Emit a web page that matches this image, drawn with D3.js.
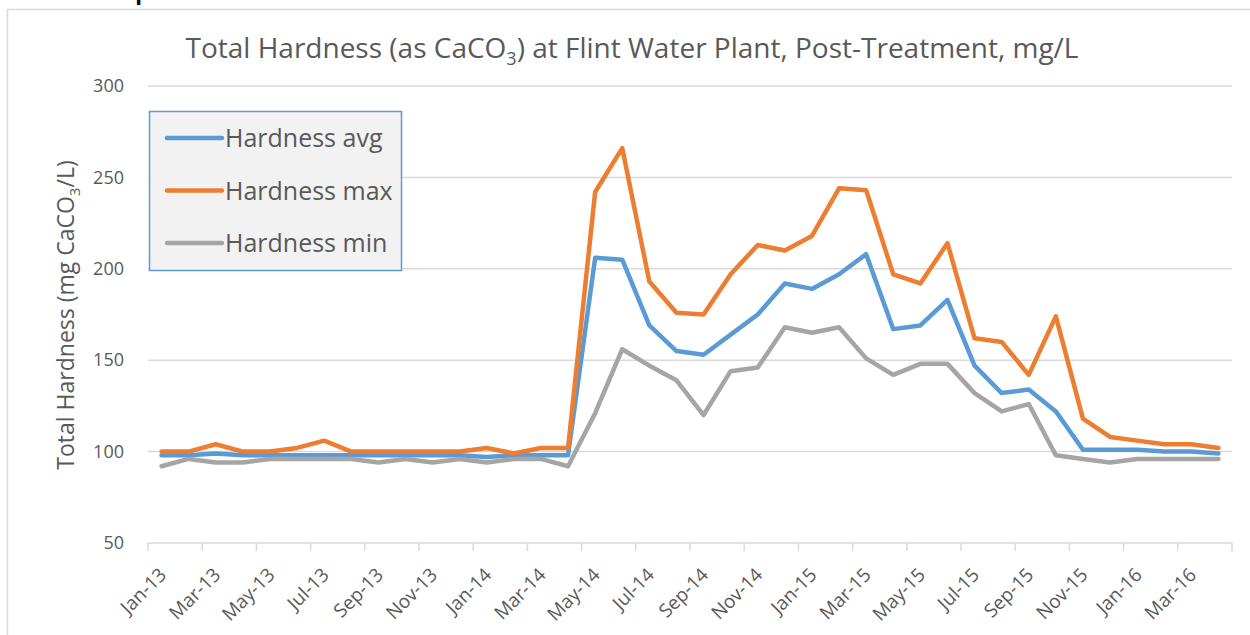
<!DOCTYPE html>
<html>
<head>
<meta charset="utf-8">
<script src="https://cdn.jsdelivr.net/npm/d3@7"></script>
<style>
  html, body { margin: 0; padding: 0; background: #fff; }
  svg { display: block; font-family: "Open Sans", sans-serif; }
</style>
</head>
<body>
<svg id="chart" width="1250" height="635"></svg>
<script>
// ---- data ----
const months = [
  'Jan-13', 'Feb-13', 'Mar-13', 'Apr-13', 'May-13', 'Jun-13', 'Jul-13', 'Aug-13', 'Sep-13', 'Oct-13', 'Nov-13', 'Dec-13',
  'Jan-14', 'Feb-14', 'Mar-14', 'Apr-14', 'May-14', 'Jun-14', 'Jul-14', 'Aug-14', 'Sep-14', 'Oct-14', 'Nov-14', 'Dec-14',
  'Jan-15', 'Feb-15', 'Mar-15', 'Apr-15', 'May-15', 'Jun-15', 'Jul-15', 'Aug-15', 'Sep-15', 'Oct-15', 'Nov-15', 'Dec-15',
  'Jan-16', 'Feb-16', 'Mar-16', 'Apr-16'
];
const hardnessAvg = [
  98, 98, 99, 98, 98, 98, 98, 98, 98, 98, 98, 98,
  97, 98, 98, 98, 206, 205, 169, 155, 153, 164, 175, 192,
  189, 197, 208, 167, 169, 183, 147, 132, 134, 122, 101, 101,
  101, 100, 100, 99
];
const hardnessMax = [
  100, 100, 104, 100, 100, 102, 106, 100, 100, 100, 100, 100,
  102, 99, 102, 102, 242, 266, 193, 176, 175, 197, 213, 210,
  218, 244, 243, 197, 192, 214, 162, 160, 142, 174, 118, 108,
  106, 104, 104, 102
];
const hardnessMin = [
  92, 96, 94, 94, 96, 96, 96, 96, 94, 96, 94, 96,
  94, 96, 96, 92, 121, 156, 147, 139, 120, 144, 146, 168,
  165, 168, 151, 142, 148, 148, 132, 122, 126, 98, 96, 94,
  96, 96, 96, 96
];
const yTicks = [50, 100, 150, 200, 250, 300];

const seriesNames = ['Hardness avg', 'Hardness max', 'Hardness min'];
const seriesColors = ['#5b9bd5', '#ed7d31', '#a5a5a5'];
const seriesValues = [hardnessAvg, hardnessMax, hardnessMin];

// ---- layout ----
const plot = { left: 148, right: 1232, top: 86, bottom: 543 };
const svg = d3.select('#chart');

// caption of the page, cut off above the chart frame
svg.append('text')
  .attr('x', -4).attr('y', 0)
  .attr('font-size', 22).attr('font-weight', 'bold').attr('fill', '#000')
  .text('Table 5: Comparison of Post-Treatment Data for Total Hardness Rates');

// chart frame
svg.append('rect')
  .attr('x', 7.5).attr('y', 9.5)
  .attr('width', 1300).attr('height', 700)
  .attr('fill', '#fff')
  .attr('stroke', '#d9d9d9').attr('stroke-width', 1.5);

const x = d3.scaleBand().domain(months).range([plot.left, plot.right]);
const y = d3.scaleLinear().domain([50, 300]).range([plot.bottom, plot.top]);

// gridlines
svg.append('g')
  .selectAll('line')
  .data(yTicks.slice(1))
  .join('line')
  .attr('x1', plot.left).attr('x2', plot.right)
  .attr('y1', d => y(d)).attr('y2', d => y(d))
  .attr('stroke', '#d9d9d9').attr('stroke-width', 1.5);

// y axis labels
const yAxis = svg.append('g')
  .attr('transform', `translate(${plot.left},0)`)
  .call(d3.axisLeft(y).tickValues(yTicks).tickSize(0).tickPadding(24));
yAxis.select('.domain').remove();
yAxis.selectAll('text')
  .attr('font-family', '"Open Sans", sans-serif')
  .attr('font-size', 18).attr('fill', '#595959');

// x axis: line, ticks every 2 months at category boundaries
const xAxisG = svg.append('g').attr('transform', `translate(0,${plot.bottom})`);
xAxisG.append('line')
  .attr('x1', plot.left).attr('x2', plot.right)
  .attr('stroke', '#d9d9d9').attr('stroke-width', 1.5);
const tickIdx = d3.range(0, months.length + 1, 2);
xAxisG.selectAll('.tick-mark')
  .data(tickIdx)
  .join('line')
  .attr('class', 'tick-mark')
  .attr('x1', i => plot.left + i * x.step()).attr('x2', i => plot.left + i * x.step())
  .attr('y1', 0).attr('y2', 8)
  .attr('stroke', '#d9d9d9').attr('stroke-width', 1.5);

const labelMonths = months.filter((m, i) => i % 2 === 0);
xAxisG.selectAll('.x-label')
  .data(labelMonths)
  .join('text')
  .attr('class', 'x-label')
  .attr('transform', d => `translate(${x(d) + x.bandwidth() / 2 + 6},${33}) rotate(-45)`)
  .attr('text-anchor', 'end')
  .attr('font-size', 19).attr('fill', '#595959')
  .text(d => d);

// y axis title
const yTitle = svg.append('text')
  .attr('transform', `translate(74,315) rotate(-90)`)
  .attr('text-anchor', 'middle')
  .attr('font-size', 23).attr('fill', '#595959');
yTitle.append('tspan').text('Total Hardness (mg CaCO');
yTitle.append('tspan').attr('font-size', 15).attr('dy', 6).text('3');
yTitle.append('tspan').attr('dy', -6).text('/L)');

// chart title
const title = svg.append('text')
  .attr('x', 632).attr('y', 58)
  .attr('text-anchor', 'middle')
  .attr('font-size', 28).attr('fill', '#595959');
title.append('tspan').text('Total Hardness (as CaCO');
title.append('tspan').attr('font-size', 18).attr('dy', 7).text('3');
title.append('tspan').attr('dy', -7).text(') at Flint Water Plant, Post-Treatment, mg/L');

// lines
const line = d3.line()
  .x((d, i) => x(months[i]) + x.bandwidth() / 2)
  .y(d => y(d));

svg.append('g')
  .selectAll('path')
  .data(seriesValues)
  .join('path')
  .attr('d', d => line(d))
  .attr('fill', 'none')
  .attr('stroke', (d, i) => seriesColors[i])
  .attr('stroke-width', 4.5)
  .attr('stroke-linejoin', 'round')
  .attr('stroke-linecap', 'round');

// legend
const legend = svg.append('g');
legend.append('rect')
  .attr('x', 149.5).attr('y', 111.5)
  .attr('width', 252).attr('height', 159)
  .attr('fill', '#f2f2f2')
  .attr('stroke', '#5b9bd5').attr('stroke-width', 1.5);

const legendItems = legend.selectAll('.legend-item')
  .data(seriesNames)
  .join('g')
  .attr('class', 'legend-item')
  .attr('transform', (d, i) => `translate(0,${138 + i * 52.5})`);
legendItems.append('line')
  .attr('x1', 167).attr('x2', 222)
  .attr('stroke', (d, i) => seriesColors[i])
  .attr('stroke-width', 4.5)
  .attr('stroke-linecap', 'round');
legendItems.append('text')
  .attr('x', 225).attr('y', 9)
  .attr('font-size', 25).attr('fill', '#595959')
  .text(d => d);
</script>
</body>
</html>
